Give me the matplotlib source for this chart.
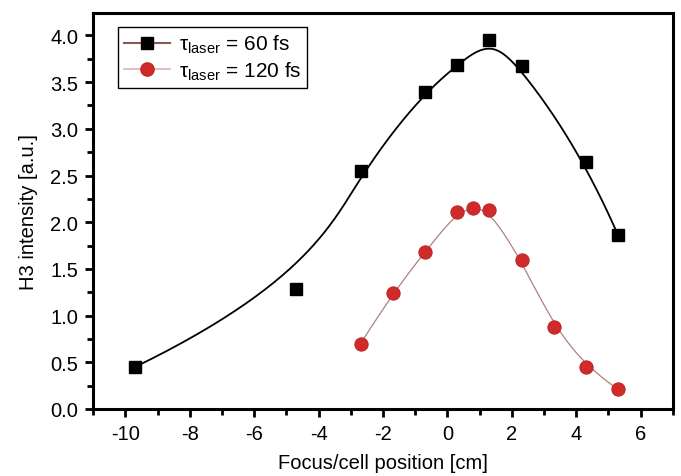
import numpy as np
import matplotlib
matplotlib.use('Agg')
import matplotlib.pyplot as plt
from matplotlib.lines import Line2D
from matplotlib.ticker import MultipleLocator

plt.rcParams['font.family'] = ['Liberation Sans', 'DejaVu Sans']
plt.rcParams['mathtext.fontset'] = 'custom'
plt.rcParams['mathtext.rm'] = 'Liberation Sans'
plt.rcParams['mathtext.it'] = 'Liberation Sans:italic'
plt.rcParams['axes.unicode_minus'] = False

########################### DATA ###########################
x60 = [-9.7, -4.7, -2.7, -0.7, 0.3, 1.3, 2.3, 4.3, 5.3]
y60 = [0.45, 1.29, 2.55, 3.39, 3.68, 3.95, 3.67, 2.65, 1.86]

x120 = [-2.7, -1.7, -0.7, 0.3, 0.8, 1.3, 2.3, 3.3, 4.3, 5.3]
y120 = [0.70, 1.24, 1.68, 2.11, 2.15, 2.13, 1.59, 0.88, 0.45, 0.21]

label60 = 'τ$_{\\mathrm{laser}}$ = 60 fs'
label120 = 'τ$_{\\mathrm{laser}}$ = 120 fs'
xlabel = 'Focus/cell position [cm]'
ylabel = 'H3 intensity [a.u.]'
############################################################


def bspline(px, py, k=3, num=500):
    # clamped B-spline using the data points as control points
    px = np.asarray(px, float)
    py = np.asarray(py, float)
    n = len(px)
    t = np.concatenate([np.zeros(k), np.linspace(0, 1, n - k + 1), np.ones(k)])
    u = np.linspace(0, 1, num)
    N = np.zeros((num, len(t) - 1))
    for i in range(len(t) - 1):
        N[:, i] = (t[i] <= u) & (u < t[i + 1])
    N[-1, n - 1] = 1.0
    for p in range(1, k + 1):
        Nn = np.zeros((num, len(t) - 1 - p))
        for i in range(len(t) - 1 - p):
            a = 0.0
            d1 = t[i + p] - t[i]
            if d1 > 0:
                a = (u - t[i]) / d1 * N[:, i]
            b = 0.0
            d2 = t[i + p + 1] - t[i + 1]
            if d2 > 0:
                b = (t[i + p + 1] - u) / d2 * N[:, i + 1]
            Nn[:, i] = a + b
        N = Nn
    return N @ px, N @ py


fig = plt.figure(figsize=(6.81, 4.77), dpi=100)
ax = fig.add_axes([0.137, 0.1405, 0.851, 0.8301])

bx, by = bspline(x60, y60)
rx, ry = bspline(x120, y120)

ax.plot(bx, by, c='k', lw=1.3, zorder=2)
ax.plot(rx, ry, c='#b08080', lw=0.9, zorder=2)
ax.plot(x60, y60, ls='none', marker='s', ms=8, mfc='k', mec='k', zorder=3)
ax.plot(x120, y120, ls='none', marker='o', ms=9.5, mfc='#d02a2a', mec='#c02626', mew=0.8, zorder=3)

ax.set_xlim(-11, 7)
ax.set_ylim(0, 4.24)
ax.xaxis.set_major_locator(MultipleLocator(2))
ax.xaxis.set_minor_locator(MultipleLocator(1))
ax.yaxis.set_major_locator(MultipleLocator(0.5))
ax.yaxis.set_minor_locator(MultipleLocator(0.25))
ax.yaxis.set_major_formatter(matplotlib.ticker.FormatStrFormatter('%.1f'))

for s in ax.spines.values():
    s.set_linewidth(2.2)
ax.tick_params(which='major', direction='out', length=6, width=2, labelsize=14.5, pad=5)
ax.tick_params(which='minor', direction='out', length=4, width=2)

ax.set_xlabel(xlabel, fontsize=14.5, labelpad=7)
ax.set_ylabel(ylabel, fontsize=14.5, labelpad=9)

h1 = Line2D([], [], c='#8c5a4c', lw=1.5, marker='s', ms=8, mfc='k', mec='k')
h2 = Line2D([], [], c='#e0b0b0', lw=1.2, marker='o', ms=9.5, mfc='#d02a2a', mec='#c02626')
leg = ax.legend([h1, h2], [label60, label120], loc='upper left',
                bbox_to_anchor=(0.043, 0.965), borderaxespad=0, fontsize=15,
                fancybox=False, edgecolor='k', framealpha=1, handlelength=2.2,
                borderpad=0.3, labelspacing=0.2, handletextpad=0.4)
leg.get_frame().set_linewidth(1.0)

fig.savefig('out.png', dpi=100)
